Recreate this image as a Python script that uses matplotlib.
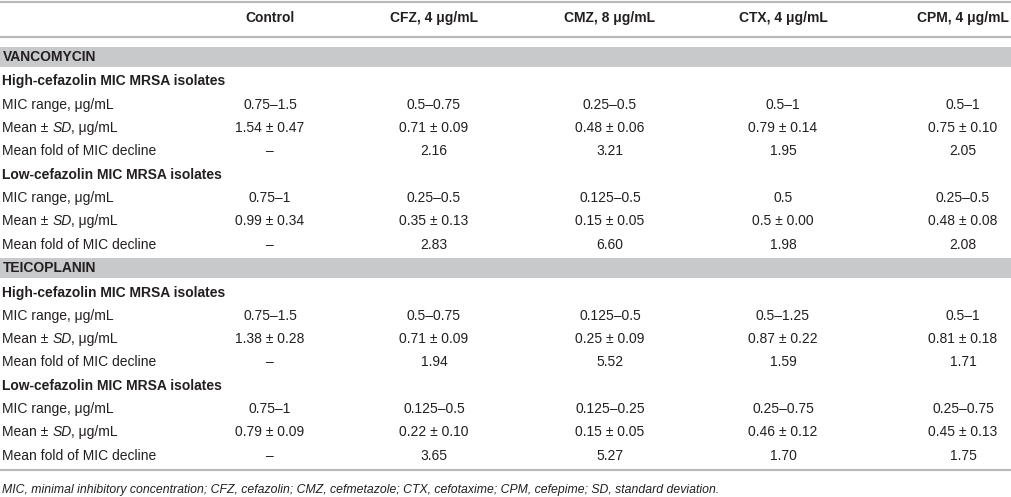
import matplotlib
matplotlib.use("Agg")
import matplotlib.pyplot as plt
from matplotlib.patches import Rectangle

plt.rcParams['font.family'] = ['Liberation Sans', 'DejaVu Sans']

# table content
columns = ["Control", "CFZ, 4 \u03bcg/mL", "CMZ, 8 \u03bcg/mL", "CTX, 4 \u03bcg/mL", "CPM, 4 \u03bcg/mL"]

vanc_high_range = ["0.75\u20131.5", "0.5\u20130.75", "0.25\u20130.5", "0.5\u20131", "0.5\u20131"]
vanc_high_mean = ["1.54 \u00b1 0.47", "0.71 \u00b1 0.09", "0.48 \u00b1 0.06", "0.79 \u00b1 0.14", "0.75 \u00b1 0.10"]
vanc_high_fold = ["\u2013", "2.16", "3.21", "1.95", "2.05"]
vanc_low_range = ["0.75\u20131", "0.25\u20130.5", "0.125\u20130.5", "0.5", "0.25\u20130.5"]
vanc_low_mean = ["0.99 \u00b1 0.34", "0.35 \u00b1 0.13", "0.15 \u00b1 0.05", "0.5 \u00b1 0.00", "0.48 \u00b1 0.08"]
vanc_low_fold = ["\u2013", "2.83", "6.60", "1.98", "2.08"]

teic_high_range = ["0.75\u20131.5", "0.5\u20130.75", "0.125\u20130.5", "0.5\u20131.25", "0.5\u20131"]
teic_high_mean = ["1.38 \u00b1 0.28", "0.71 \u00b1 0.09", "0.25 \u00b1 0.09", "0.87 \u00b1 0.22", "0.81 \u00b1 0.18"]
teic_high_fold = ["\u2013", "1.94", "5.52", "1.59", "1.71"]
teic_low_range = ["0.75\u20131", "0.125\u20130.5", "0.125\u20130.25", "0.25\u20130.75", "0.25\u20130.75"]
teic_low_mean = ["0.79 \u00b1 0.09", "0.22 \u00b1 0.10", "0.15 \u00b1 0.05", "0.46 \u00b1 0.12", "0.45 \u00b1 0.13"]
teic_low_fold = ["\u2013", "3.65", "5.27", "1.70", "1.75"]

drugs = ["VANCOMYCIN", "TEICOPLANIN"]
groups = ["High-cefazolin MIC MRSA isolates", "Low-cefazolin MIC MRSA isolates"]
footnote = ("MIC, minimal inhibitory concentration; CFZ, cefazolin; CMZ, cefmetazole; "
            "CTX, cefotaxime; CPM, cefepime; SD, standard deviation.")

blocks = [
    [[vanc_high_range, vanc_high_mean, vanc_high_fold],
     [vanc_low_range, vanc_low_mean, vanc_low_fold]],
    [[teic_high_range, teic_high_mean, teic_high_fold],
     [teic_low_range, teic_low_mean, teic_low_fold]],
]

# layout (pixels)
col_x = [270, 434, 610, 783, 963]
fs = 10
fs_note = 8.8
txt = '#231f20'
line_c = '#b9b9b9'
band_c = '#c8c9cb'

fig = plt.figure(figsize=(10.12, 4.97), dpi=100)
ax = fig.add_axes([0, 0, 1, 1])
ax.set_xlim(0, 1012)
ax.set_ylim(497, 0)
ax.axis('off')


def mixed(x, y, parts):
    # draw consecutive pieces of text with different styles
    fig.canvas.draw()
    r = fig.canvas.get_renderer()
    for s, style in parts:
        t = ax.text(x, y, s, fontsize=fs, color=txt, style=style, va='center', ha='left')
        bb = t.get_window_extent(renderer=r)
        x += bb.width


ax.plot([0, 1012], [1.5, 1.5], color=line_c, lw=1.6)
ax.plot([0, 1012], [37, 37], color=line_c, lw=1.6)
ax.plot([0, 1012], [470, 470], color=line_c, lw=1.6)

for cx, c in zip(col_x, columns):
    ax.text(cx, 18, c, fontsize=fs, color=txt, weight='bold', ha='center', va='center')

band_y = [57, 268]
row_step = 23.3
for d, drug in enumerate(drugs):
    by = band_y[d]
    ax.add_patch(Rectangle((0, by - 10), 1012, 20, color=band_c, lw=0))
    ax.text(3, by, drug, fontsize=fs, color=txt, weight='bold', va='center')
    y = by + 24.5
    for g, grp in enumerate(groups):
        ax.text(2, y, grp, fontsize=fs, color=txt, weight='bold', va='center')
        y += row_step
        rng, mean, fold = blocks[d][g]
        ax.text(2, y, "MIC range, \u03bcg/mL", fontsize=fs, color=txt, va='center')
        for cx, v in zip(col_x, rng):
            ax.text(cx, y, v, fontsize=fs, color=txt, ha='center', va='center')
        y += row_step
        mixed(2, y, [("Mean \u00b1 ", 'normal'), ("SD", 'italic'), (", \u03bcg/mL", 'normal')])
        for cx, v in zip(col_x, mean):
            ax.text(cx, y, v, fontsize=fs, color=txt, ha='center', va='center')
        y += row_step
        ax.text(2, y, "Mean fold of MIC decline", fontsize=fs, color=txt, va='center')
        for cx, v in zip(col_x, fold):
            ax.text(cx, y, v, fontsize=fs, color=txt, ha='center', va='center')
        y += row_step

ax.text(2, 490, footnote, fontsize=fs_note, color=txt, style='italic', va='center')

fig.savefig('out.png', dpi=100)
